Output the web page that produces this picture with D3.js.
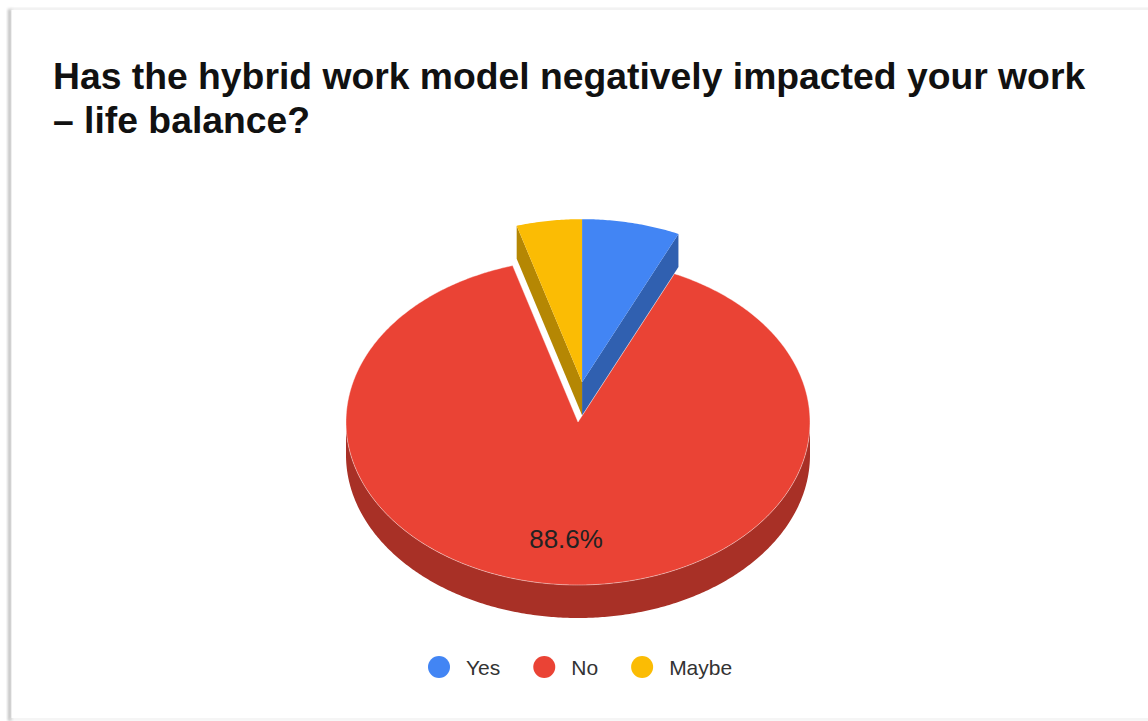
<!DOCTYPE html>
<html>
<head>
<meta charset="utf-8">
<script src="https://cdn.jsdelivr.net/npm/d3@7"></script>
<style>
  html, body { margin: 0; padding: 0; background: #ffffff; }
  svg { display: block; }
</style>
</head>
<body>
<svg id="chart" width="1148" height="721"></svg>
<script>
// Survey answers (respondent counts)
const categories = ["Yes", "No", "Maybe"];
const counts = [3, 39, 2];
const colors = ["#4285f4", "#ea4335", "#fbbc04"];
const explodedSlices = ["Yes", "Maybe"];
const titleLines = [
  "Has the hybrid work model negatively impacted your work",
  "\u2013 life balance?"
];

const W = 1148, H = 721;
const svg = d3.select("#chart");

// card frame with a soft shadow on the left, top and bottom edges
const defs = svg.append("defs");
defs.append("filter").attr("id", "soft")
  .attr("x", "-50%").attr("y", "-50%").attr("width", "200%").attr("height", "200%")
  .append("feGaussianBlur").attr("stdDeviation", 1.4);
svg.append("rect").attr("width", W).attr("height", H).attr("fill", "#fff");
svg.append("rect").attr("x", 8).attr("y", 9).attr("width", 3.5).attr("height", 712)
  .attr("fill", "#bdbdbd").attr("filter", "url(#soft)");
svg.append("rect").attr("x", 10).attr("y", 8.5).attr("width", W).attr("height", 1.6)
  .attr("fill", "#dcdcdc").attr("filter", "url(#soft)");
svg.append("rect").attr("x", 10).attr("y", 718.5).attr("width", W).attr("height", 1.4)
  .attr("fill", "#e2e2e2").attr("filter", "url(#soft)");
svg.append("rect").attr("x", 11.5).attr("y", 10).attr("width", W).attr("height", 708).attr("fill", "#fff");

// title
const title = svg.append("g").attr("font-family", "'Liberation Sans', Arial, sans-serif")
  .attr("font-weight", "bold").attr("font-size", 37.3).attr("fill", "#111");
title.selectAll("text").data(titleLines).join("text")
  .attr("x", 53).attr("y", (d, i) => 89 + i * 44)
  .text(d => d);

// 3D pie geometry
const cx = 578, cy = 422, rx = 232, ry = 163, depth = 33;
const explodeDist = 0.245; // fraction of radius

const pie = d3.pie().sort(null).value(d => d)
  .startAngle(0).endAngle(2 * Math.PI);
const arcs = pie(counts).map((a, i) => ({ ...a, name: categories[i], color: colors[i] }));

// shared explode direction for the pulled-out group
const grp = arcs.filter(a => explodedSlices.includes(a.name));
const s0 = grp[grp.length - 1].startAngle - 2 * Math.PI, s1 = grp[0].endAngle;
const grpMid = (s0 + s1) / 2;
arcs.forEach(a => {
  if (explodedSlices.includes(a.name)) {
    a.ox = rx * explodeDist * Math.sin(grpMid);
    a.oy = -ry * explodeDist * Math.cos(grpMid);
  } else { a.ox = 0; a.oy = 0; }
});

const proj = (a, t, z) => [cx + a.ox + rx * Math.sin(t), cy + a.oy - ry * Math.cos(t) + z];
const sampleAngles = (t0, t1) => {
  const n = Math.max(2, Math.ceil((t1 - t0) / 0.01));
  return d3.range(n + 1).map(k => t0 + (t1 - t0) * k / n);
};
const line = d3.line();
const shade = c => { const k = 0.72, col = d3.rgb(c); return d3.rgb(col.r * k, col.g * k, col.b * k).formatHex(); };

const pieG = svg.append("g");

// outer curved wall (front-facing part only)
arcs.forEach(a => {
  const t0 = Math.max(a.startAngle, Math.PI / 2), t1 = Math.min(a.endAngle, 3 * Math.PI / 2);
  if (t1 <= t0) return;
  const ang = sampleAngles(t0, t1);
  const pts = ang.map(t => proj(a, t, 0)).concat(ang.slice().reverse().map(t => proj(a, t, depth)));
  pieG.append("path").attr("d", line(pts) + "Z").attr("fill", shade(a.color));
});

// top face of a slice
const topFace = a => {
  const pts = [[cx + a.ox, cy + a.oy]]
    .concat(sampleAngles(a.startAngle, a.endAngle).map(t => proj(a, t, 0)));
  return line(pts) + "Z";
};
arcs.filter(a => !explodedSlices.includes(a.name)).forEach(a => {
  pieG.append("path").attr("d", topFace(a)).attr("fill", a.color)
    .attr("stroke", "#fff").attr("stroke-width", 1).attr("stroke-opacity", 0.4);
});

// radial walls of the pulled-out slices (those facing the viewer)
arcs.filter(a => explodedSlices.includes(a.name)).forEach(a => {
  [a.startAngle, a.endAngle].forEach(t => {
    const normal = t === a.endAngle ? t + Math.PI / 2 : t - Math.PI / 2;
    if (Math.cos(normal) >= 0) return;
    const tipTop = [cx + a.ox, cy + a.oy], tipBot = [cx + a.ox, cy + a.oy + depth];
    const pts = [tipTop, proj(a, t, 0), proj(a, t, depth), tipBot];
    pieG.append("path").attr("d", line(pts) + "Z").attr("fill", shade(a.color));
  });
});
arcs.filter(a => explodedSlices.includes(a.name)).forEach(a => {
  pieG.append("path").attr("d", topFace(a)).attr("fill", a.color);
});

// percentage label on the large slice
const total = d3.sum(counts);
const big = arcs[1];
const mid = (big.startAngle + big.endAngle) / 2;
const lf = 0.72;
svg.append("text")
  .attr("x", cx + rx * lf * Math.sin(mid))
  .attr("y", cy - ry * lf * Math.cos(mid) + 9)
  .attr("text-anchor", "middle")
  .attr("font-family", "'Liberation Sans', Arial, sans-serif")
  .attr("font-size", 26).attr("fill", "#222")
  .text(d3.format(".1%")(big.value / total));

// legend
const legend = svg.append("g").attr("font-family", "'Liberation Sans', Arial, sans-serif")
  .attr("font-size", 21).attr("fill", "#333");
let lx = 439;
const ly = 667;
categories.forEach((c, i) => {
  legend.append("circle").attr("cx", lx).attr("cy", ly).attr("r", 11).attr("fill", colors[i]);
  const t = legend.append("text").attr("x", lx + 27).attr("y", ly + 7.5).text(c);
  lx = lx + 27 + t.node().getComputedTextLength() + 44;
});
</script>
</body>
</html>
